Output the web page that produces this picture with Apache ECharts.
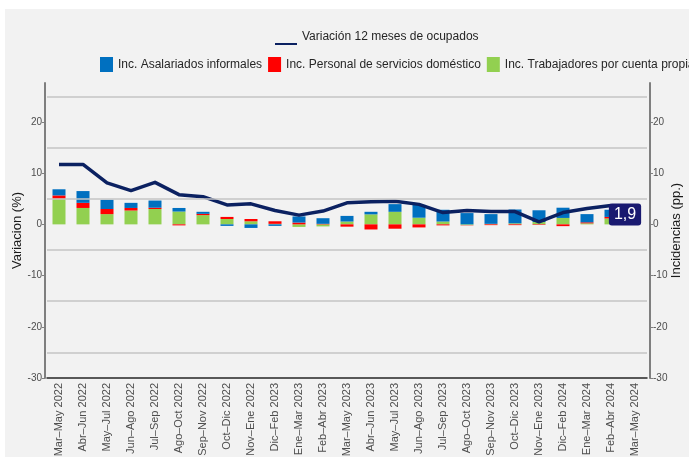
<!DOCTYPE html>
<html>
<head>
<meta charset="utf-8">
<script src="https://cdn.jsdelivr.net/npm/echarts@6/dist/echarts.min.js"></script>
<style>
    html, body { margin: 0; padding: 0; background: #ffffff; }
    #bg { position: absolute; left: 5px; top: 9px; width: 684px; height: 448px; background: #f2f2f2; }
    #chart { position: absolute; left: 0; top: 0; width: 689px; height: 457px; }
</style>
</head>
<body>
<div id="bg"></div>
<div id="chart"></div>
<script>
    // categorias (trimestres moviles)
    const categories = [
        'Mar–May 2022', 'Abr–Jun 2022', 'May–Jul 2022', 'Jun–Ago 2022', 'Jul–Sep 2022',
        'Ago–Oct 2022', 'Sep–Nov 2022', 'Oct–Dic 2022', 'Nov–Ene 2022', 'Dic–Feb 2023',
        'Ene–Mar 2023', 'Feb–Abr 2023', 'Mar–May 2023', 'Abr–Jun 2023', 'May–Jul 2023',
        'Jun–Ago 2023', 'Jul–Sep 2023', 'Ago–Oct 2023', 'Sep–Nov 2023', 'Oct–Dic 2023',
        'Nov–Ene 2023', 'Dic–Feb 2024', 'Ene–Mar 2024', 'Feb–Abr 2024', 'Mar–May 2024'
    ];
    // variacion 12 meses de ocupados (%)
    const variacion = [11.7, 11.7, 8.1, 6.6, 8.2, 5.8, 5.4, 3.8, 4.0, 2.7, 1.8, 2.6, 4.2,
        4.4, 4.5, 3.9, 2.3, 2.7, 2.5, 2.5, 0.5, 2.3, 3.1, 3.7, null];
    // incidencias (pp.)
    const asalariados = [1.2, 2.3, 1.8, 1.0, 1.4, 0.7, 0.4, -0.3, -0.7, -0.3, 1.2, 1.1, 1.1,
        0.5, 1.5, 2.5, 2.3, 2.2, 1.9, 2.7, 2.3, 2.0, 1.6, 1.4, null];
    const domestico = [0.65, 1.0, 1.0, 0.5, 0.25, -0.2, 0.25, 0.4, 0.45, 0.5, 0.35, 0.1, -0.45,
        -1.0, -0.85, -0.6, -0.2, -0.05, -0.15, -0.15, -0.1, -0.35, 0.2, 0.3, null];
    const cuentaPropia = [5.0, 3.2, 2.0, 2.7, 3.0, 2.5, 1.8, 1.05, 0.6, 0.1, -0.5, -0.4, 0.55,
        1.95, 2.45, 1.3, 0.55, -0.15, 0.1, 0.2, 0.45, 1.25, 0.2, 1.15, null];
    const yTicks = [-30, -20, -10, 0, 10, 20];
    const gridLevels = [-25, -15, -5, 5, 15, 25];
    const lastLabel = ['Feb–Abr 2024', 1.9];

    const names = {
        line: 'Variación 12 meses de ocupados',
        asal: 'Inc. Asalariados informales',
        dom: 'Inc. Personal de servicios doméstico',
        prop: 'Inc. Trabajadores por cuenta propia'
    };
    const font = 'Liberation Sans, Arial, sans-serif';

    function yAxisOf(name, pos, offset, gap) {
        return {
            type: 'value',
            position: pos,
            offset: offset,
            min: -30,
            max: 27.6,
            name: name,
            nameLocation: 'middle',
            nameGap: gap,
            nameMoveOverlap: false,
            nameTextStyle: {color: '#1a1a1a', fontSize: 13, fontFamily: font},
            axisLine: {show: true, onZero: false, lineStyle: {color: '#7f7f7f', width: 2}},
            axisTick: {show: true, length: 3, customValues: yTicks, lineStyle: {color: '#7f7f7f'}},
            axisLabel: {customValues: yTicks, color: '#4d4d4d', fontSize: 10, fontFamily: font, margin: 3},
            splitLine: {show: false}
        };
    }

    const chart = echarts.init(document.getElementById('chart'));
    chart.setOption({
        backgroundColor: 'transparent',
        animation: false,
        textStyle: {fontFamily: font},
        legend: [
            {
                data: [names.line],
                left: 270,
                top: 24,
                itemWidth: 22,
                itemHeight: 16,
                icon: 'path://M0,0 L22,0 L0,0 Z M0,14 L22,14 L22,16 L0,16 Z',
                textStyle: {color: '#262626', fontSize: 12, fontFamily: font}
            },
            {
                data: [names.asal, names.dom, names.prop],
                left: 95,
                top: 52,
                width: 1000,
                itemWidth: 13,
                itemHeight: 15,
                itemGap: 6,
                icon: 'rect',
                textStyle: {color: '#262626', fontSize: 12, fontFamily: font}
            }
        ],
        grid: {left: 47, right: 42, top: 83, bottom: 79, containLabel: false, outerBoundsMode: 'none'},
        xAxis: {
            type: 'category',
            data: categories,
            axisLine: {onZero: false, lineStyle: {color: '#262626', width: 1.5}},
            axisTick: {alignWithLabel: true, length: 4, lineStyle: {color: '#7f7f7f'}},
            axisLabel: {rotate: 90, interval: 0, color: '#4d4d4d', fontSize: 11, fontFamily: font, margin: 5},
            splitLine: {show: false}
        },
        yAxis: [
            yAxisOf('Variacion (%)', 'left', 2, 21),
            yAxisOf('Incidencias (pp.)', 'right', 3, 20)
        ],
        series: [
            {
                // lineas de referencia
                type: 'line',
                data: [],
                z: 0,
                markLine: {
                    silent: true,
                    symbol: 'none',
                    label: {show: false},
                    lineStyle: {color: '#c4c4c4', width: 1.5, type: 'solid'},
                    data: gridLevels.map(v => ({yAxis: v}))
                }
            },
            {
                name: names.prop, type: 'bar', stack: 'inc', yAxisIndex: 1,
                barWidth: 13, itemStyle: {color: '#92d050'}, data: cuentaPropia
            },
            {
                name: names.dom, type: 'bar', stack: 'inc', yAxisIndex: 1,
                barWidth: 13, itemStyle: {color: '#ff0000'}, data: domestico
            },
            {
                name: names.asal, type: 'bar', stack: 'inc', yAxisIndex: 1,
                barWidth: 13, itemStyle: {color: '#0070c0'}, data: asalariados
            },
            {
                name: names.line, type: 'line', yAxisIndex: 0,
                showSymbol: false, symbol: 'none',
                itemStyle: {color: '#0b2161'},
                lineStyle: {color: '#0b2161', width: 3.5, join: 'round'},
                data: variacion, z: 3
            },
            {
                type: 'scatter', yAxisIndex: 0, symbolSize: 0, z: 10,
                itemStyle: {opacity: 1},
                data: [lastLabel],
                label: {
                    show: true,
                    position: 'inside',
                    offset: [14, 0],
                    formatter: p => String(p.value[1]).replace('.', ','),
                    color: '#ffffff',
                    fontSize: 16,
                    fontFamily: font,
                    backgroundColor: '#191970',
                    borderRadius: 3,
                    padding: [3, 5]
                }
            }
        ]
    });
</script>
</body>
</html>
